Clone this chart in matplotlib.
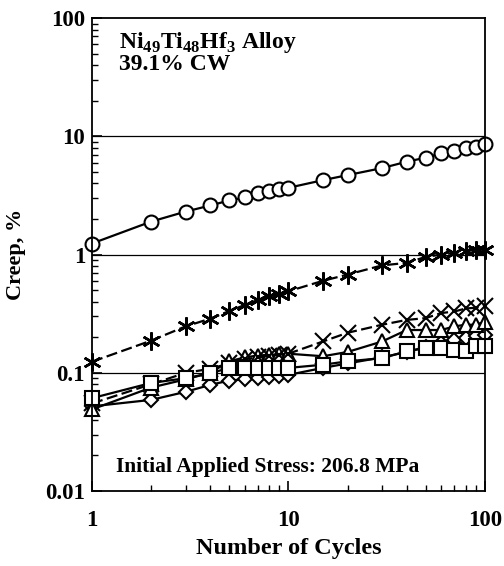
import numpy as np
import matplotlib
matplotlib.use("Agg")
import matplotlib.pyplot as plt
from matplotlib.ticker import LogLocator, NullFormatter, FixedLocator, FixedFormatter

plt.rcParams['font.family'] = ['Liberation Serif', 'DejaVu Serif']
plt.rcParams['font.weight'] = 'bold'
plt.rcParams['mathtext.fontset'] = 'custom'
plt.rcParams['mathtext.rm'] = 'Liberation Serif:bold'
plt.rcParams['mathtext.bf'] = 'Liberation Serif:bold'

cycles = [1, 2, 3, 4, 5, 6, 7, 8, 9, 10, 15, 20, 30, 40, 50, 60, 70, 80, 90, 100]

creep_circle = [1.24, 1.9, 2.31, 2.6, 2.87, 3.04, 3.29, 3.47, 3.6, 3.67,
                4.26, 4.7, 5.39, 6.1, 6.6, 7.2, 7.5, 7.9, 8.1, 8.6]
creep_star = [0.124, 0.187, 0.247, 0.287, 0.333, 0.375, 0.413, 0.443, 0.467, 0.489,
              0.60, 0.677, 0.81, 0.85, 0.956, 1.0, 1.03, 1.07, 1.09, 1.1]
creep_cross = [0.055, 0.08, 0.1, 0.108, 0.12, 0.13, 0.135, 0.14, 0.142, 0.145,
               0.184, 0.218, 0.255, 0.28, 0.29, 0.32, 0.33, 0.35, 0.355, 0.37]
creep_triangle = [0.049, 0.075, 0.088, 0.1, 0.125, 0.135, 0.14, 0.142, 0.143, 0.145,
                  0.138, 0.15, 0.184, 0.23, 0.23, 0.23, 0.247, 0.255, 0.255, 0.27]
creep_diamond = [0.052, 0.059, 0.069, 0.079, 0.086, 0.088, 0.09, 0.092, 0.094, 0.096,
                 0.11, 0.12, 0.135, 0.15, 0.165, 0.18, 0.19, 0.198, 0.205, 0.21]
creep_square = [0.061, 0.082, 0.09, 0.099, 0.11, 0.11, 0.11, 0.11, 0.11, 0.11,
                0.117, 0.125, 0.133, 0.152, 0.162, 0.163, 0.157, 0.152, 0.17, 0.169]

fig = plt.figure(figsize=(5.04, 5.66), dpi=100)
ax = fig.add_axes([0.1825, 0.1325, 0.7795, 0.8355])

ms = 10
common = dict(color='black', markerfacecolor='white', markeredgecolor='black',
              markeredgewidth=1.5, linewidth=1.6, clip_on=False)

ax.plot(cycles, creep_diamond, marker='D', markersize=ms * 0.75, linestyle='-', **common)
ax.plot(cycles, creep_triangle, marker='^', markersize=ms, linestyle='-', **common)
ax.plot(cycles, creep_cross, marker='x', markersize=ms * 1.1, linestyle=(0, (5, 2)), **common)
ax.plot(cycles, creep_square, marker='s', markersize=ms, linestyle='-', **common)
ax.plot(cycles, creep_star, marker=(6, 2, 0), markersize=ms * 1.3, linestyle=(0, (5, 2)),
        **dict(common, markeredgewidth=1.8))
ax.plot(cycles, creep_circle, marker='o', markersize=ms, linestyle='-', **common)

ax.set_xscale('log')
ax.set_yscale('log')
ax.set_xlim(1, 100)
ax.set_ylim(0.01, 100)

for yv in [0.1, 1, 10]:
    ax.axhline(yv, color='black', linewidth=0.9, zorder=0)

ax.xaxis.set_major_locator(FixedLocator([1, 10, 100]))
ax.xaxis.set_major_formatter(FixedFormatter(['1', '10', '100']))
ax.yaxis.set_major_locator(FixedLocator([0.01, 0.1, 1, 10, 100]))
ax.yaxis.set_major_formatter(FixedFormatter(['0.01', '0.1', '1', '10', '100']))
ax.xaxis.set_minor_locator(LogLocator(base=10, subs=np.arange(2, 10)))
ax.yaxis.set_minor_locator(LogLocator(base=10, subs=np.arange(2, 10)))
ax.xaxis.set_minor_formatter(NullFormatter())
ax.yaxis.set_minor_formatter(NullFormatter())

ax.tick_params(which='both', direction='in', top=False, right=False)
ax.tick_params(which='major', length=7, width=1.2, labelsize=16.5)
ax.tick_params(axis='x', which='major', pad=14)
ax.tick_params(axis='y', which='major', pad=5)
ax.tick_params(which='minor', length=4, width=1.0)
for lab in ax.get_xticklabels() + ax.get_yticklabels():
    lab.set_fontweight('bold')
for sp in ax.spines.values():
    sp.set_linewidth(1.3)

ax.set_xlabel('Number of Cycles', fontsize=17.5, fontweight='bold', labelpad=5)
ax.set_ylabel('Creep, %', fontsize=16, fontweight='bold', labelpad=14)

ax.text(0.07, 0.975, r'Ni$_{49}$Ti$_{48}$Hf$_{3}$ Alloy' + '\n39.1% CW', transform=ax.transAxes,
        fontsize=17, fontweight='bold', va='top', ha='left', linespacing=0.95)
ax.text(0.06, 0.03, 'Initial Applied Stress: 206.8 MPa', transform=ax.transAxes,
        fontsize=15.5, fontweight='bold', va='bottom', ha='left')

fig.savefig('out.png', dpi=100)
